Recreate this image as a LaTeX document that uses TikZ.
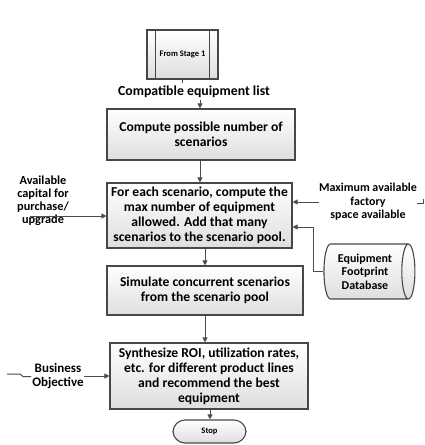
\documentclass[tikz,border=0pt]{standalone}
\usepackage{fontspec}
\setmainfont{Carlito}
\usetikzlibrary{shapes.geometric,arrows.meta,calc}
\begin{document}
\begin{tikzpicture}[x=1pt,y=-1pt,
  proc/.style={draw=black!72, line width=1.1pt, top color=white, bottom color=black!13,
    align=center, inner sep=1pt, font=\bfseries\fontsize{13.6}{14.9}\selectfont},
  conn/.style={draw=black!70, line width=1pt, -{Triangle[length=5pt,width=5pt]}},
  plain/.style={draw=black!70, line width=1pt},
  lbl/.style={align=center, inner sep=0pt, font=\bfseries\fontsize{12}{13.3}\selectfont}]
\useasboundingbox (0,0) rectangle (425,445);

% From Stage 1 (predefined process)
\node[proc, minimum width=71pt, minimum height=49pt, font=\bfseries\fontsize{8.5}{9}\selectfont] (fs) at (182.5,54.5) {From Stage 1};
\draw[draw=black!72, line width=1.1pt] ([xshift=9pt]fs.north west) -- ([xshift=9pt]fs.south west);
\draw[draw=black!72, line width=1.1pt] ([xshift=-9pt]fs.north east) -- ([xshift=-9pt]fs.south east);

\node[lbl, font=\bfseries\fontsize{13.8}{14}\selectfont] (compat) at (194,92) {Compatible equipment list};

\node[proc, minimum width=188pt, minimum height=51pt] (b1) at (201,134.5) {Compute possible number of\\scenarios};
\node[proc, minimum width=185pt, minimum height=65pt] (b2) at (199.5,215.5) {For each scenario, compute the\\max number of equipment\\allowed. Add that many\\scenarios to the scenario pool.};
\node[proc, minimum width=196pt, minimum height=49pt] (b3) at (205,290.5) {Simulate concurrent scenarios\\from the scenario pool};
\node[proc, minimum width=198pt, minimum height=66pt] (b4) at (209,376) {Synthesize ROI, utilization rates,\\etc. for different product lines\\and recommend the best\\equipment};
\node[proc, rounded corners=12pt, minimum width=73pt, minimum height=23pt, font=\bfseries\fontsize{8.5}{9}\selectfont] (stop) at (209.5,431.5) {Stop};

\node[proc, cylinder, shape border rotate=0, aspect=0.35, minimum height=91pt, minimum width=55pt,
  font=\bfseries\fontsize{12}{13.5}\selectfont] (db) at (365,271.5) {Equipment\\Footprint\\Database};

\node[lbl, font=\bfseries\fontsize{12.3}{13}\selectfont] (cap) at (43,201) {Available\\capital for\\purchase/\\upgrade};
\node[lbl] (maxs) at (368,202) {Maximum available\\factory\\space available};
\node[lbl, font=\bfseries\fontsize{13}{14.5}\selectfont] (bo) at (58,376) {Business\\Objective};

% connectors
\coordinate (fsend) at (182.5,82.5);
\draw[plain] (fs.south) -- (fsend);
\coordinate (cin) at (200,100);
\draw[conn] (cin) -- (cin |- b1.north);
\draw[conn] ([xshift=-1pt]b1.south) -- ([xshift=-1pt]b1.south |- b2.north);
\draw[conn] ([xshift=5.5pt]b2.south) -- ([xshift=5.5pt]b2.south |- b3.north);
\draw[conn] (b3.south) -- (b3.south |- b4.north);
\draw[conn] ([xshift=1pt]b4.south) -- ([xshift=1pt]b4.south |- stop.north);

\coordinate (capin) at (30,216);
\draw[conn] (capin) -- (capin -| b2.west);
\draw[conn] (maxs.west) -- (maxs.west -| b2.east);
\coordinate (bend) at (313,227);
\draw[conn] (db.west) -| (bend) -- (bend -| b2.east);
\draw[conn] (bo.east) -- (bo.east -| b4.west);

% loose stubs
\coordinate (s1) at (417,203);
\coordinate (s2) at (423.5,199);
\draw[plain] (s1) -| (s2);
\coordinate (t1) at (7,374);
\coordinate (t2) at (31,376.5);
\draw[plain] (t1) -- ++(13,0) -- ++(3,2.5) -- (t2);
\end{tikzpicture}
\end{document}
